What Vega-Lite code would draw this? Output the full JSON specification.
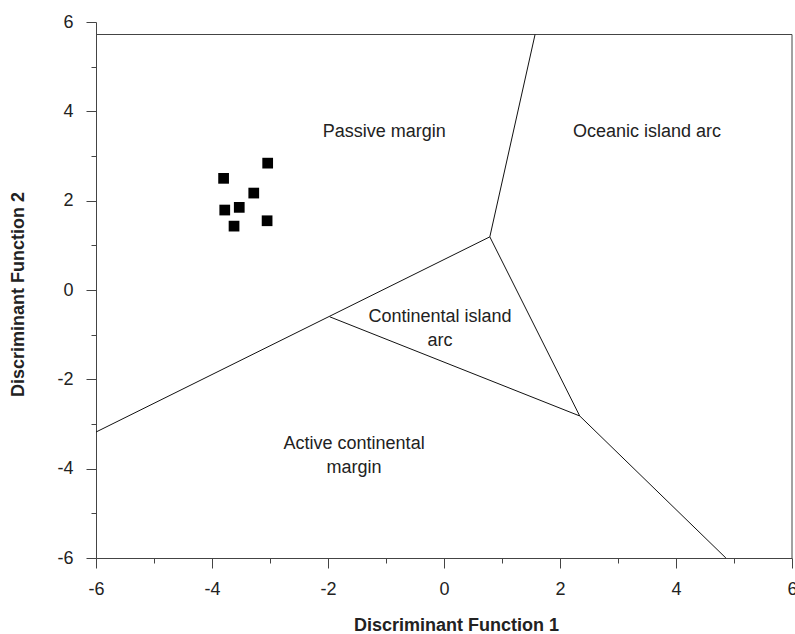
{
  "$schema": "https://vega.github.io/schema/vega-lite/v6.json",
  "width": 696,
  "height": 536,
  "autosize": "none",
  "padding": {"left": 96, "top": 22, "right": 3, "bottom": 76},
  "background": "white",
  "config": {
    "view": {"stroke": null},
    "axis": {
      "grid": false,
      "labelFont": "Liberation Sans",
      "labelFontSize": 18,
      "labelColor": "#222",
      "titleFont": "Liberation Sans",
      "titleFontSize": 18,
      "titleFontWeight": "bold",
      "titleColor": "#222",
      "domainColor": "#444",
      "tickColor": "#444",
      "labelFlush": false,
      "labelOverlap": false
    }
  },
  "datasets": {
    "frame": [
      {"x": -6, "y": 5.72, "x2": 6, "y2": 5.72},
      {"x": 6, "y": 5.72, "x2": 6, "y2": -6}
    ],
    "boundaries": [
      {"x": 1.57, "y": 5.72, "x2": 0.79, "y2": 1.19},
      {"x": 0.79, "y": 1.19, "x2": -6, "y2": -3.18},
      {"x": 0.79, "y": 1.19, "x2": 2.34, "y2": -2.82},
      {"x": 2.34, "y": -2.82, "x2": 4.86, "y2": -6},
      {"x": -1.97, "y": -0.6, "x2": 2.34, "y2": -2.82}
    ],
    "samples": [
      {"x": -3.04, "y": 2.84},
      {"x": -3.8, "y": 2.5},
      {"x": -3.28, "y": 2.17},
      {"x": -3.53, "y": 1.85},
      {"x": -3.78, "y": 1.79},
      {"x": -3.05, "y": 1.55},
      {"x": -3.62, "y": 1.43}
    ],
    "labels": [
      {"x": -1.03, "y": 3.54, "label": "Passive margin"},
      {"x": 3.5, "y": 3.54, "label": "Oceanic island arc"},
      {"x": -0.07, "y": -0.6, "label": "Continental island\narc"},
      {"x": -1.55, "y": -3.45, "label": "Active continental\nmargin"}
    ]
  },
  "encoding": {
    "x": {
      "field": "x",
      "type": "quantitative",
      "scale": {"domain": [-6, 6], "nice": false, "zero": false},
      "axis": {
        "title": "Discriminant Function 1",
        "values": [-6, -5, -4, -3, -2, -1, 0, 1, 2, 3, 4, 5, 6],
        "labelExpr": "datum.value % 2 === 0 ? toString(datum.value) : ''",
        "tickSize": {"condition": {"test": "datum.value % 2 !== 0", "value": 5}, "value": 10},
        "labelPadding": 12,
        "titleX": 360,
        "titleY": 72,
        "titleAlign": "center",
        "titleBaseline": "alphabetic"
      }
    },
    "y": {
      "field": "y",
      "type": "quantitative",
      "scale": {"domain": [-6, 6], "nice": false, "zero": false},
      "axis": {
        "title": "Discriminant Function 2",
        "values": [-6, -5, -4, -3, -2, -1, 0, 1, 2, 3, 4, 5, 6],
        "labelExpr": "datum.value % 2 === 0 ? toString(datum.value) : ''",
        "tickSize": {"condition": {"test": "datum.value % 2 !== 0", "value": 5}, "value": 10},
        "labelPadding": 13,
        "titleX": -73,
        "titleY": 272,
        "titleAngle": 270,
        "titleAlign": "center",
        "titleBaseline": "alphabetic"
      }
    }
  },
  "layer": [
    {
      "data": {"name": "frame"},
      "mark": {"type": "rule", "color": "#444", "strokeWidth": 1},
      "encoding": {"x2": {"field": "x2"}, "y2": {"field": "y2"}}
    },
    {
      "data": {"name": "boundaries"},
      "mark": {"type": "rule", "color": "#111", "strokeWidth": 1},
      "encoding": {"x2": {"field": "x2"}, "y2": {"field": "y2"}}
    },
    {
      "data": {"name": "samples"},
      "mark": {"type": "point", "shape": "square", "filled": true, "color": "#000", "opacity": 1, "size": 115}
    },
    {
      "data": {"name": "labels"},
      "mark": {"type": "text", "font": "Liberation Sans", "fontSize": 18, "color": "#222", "align": "center", "baseline": "middle", "lineBreak": "\n", "lineHeight": 24},
      "encoding": {"text": {"field": "label"}}
    }
  ]
}
